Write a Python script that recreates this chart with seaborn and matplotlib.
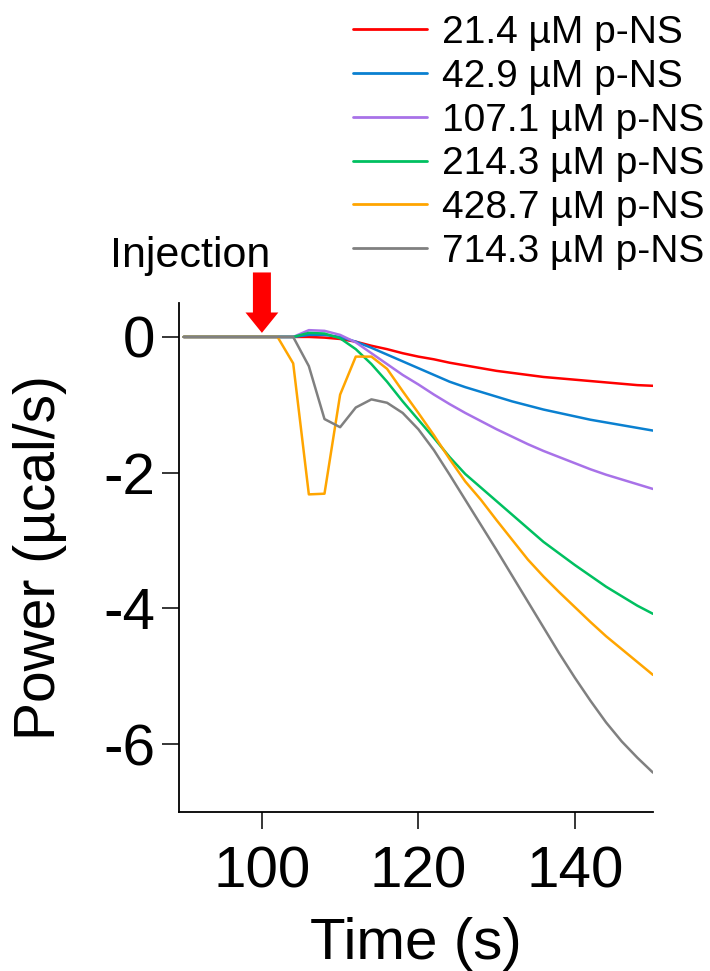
import numpy as np
import pandas as pd
import matplotlib
matplotlib.use("Agg")
import matplotlib.pyplot as plt
import seaborn as sns

# Time axis (s), sampled every 2 s
time_s = list(range(90, 152, 2))

# Heat-flow traces (µcal/s) for each p-NS concentration
conc_labels = ["21.4 µM p-NS", "42.9 µM p-NS", "107.1 µM p-NS",
               "214.3 µM p-NS", "428.7 µM p-NS", "714.3 µM p-NS"]

pre = [0.0] * 8  # 90 ... 104 s

power_21_4 = pre + [0.0, -0.01, -0.03, -0.07, -0.13, -0.18, -0.24, -0.29, -0.33,
                    -0.38, -0.42, -0.46, -0.50, -0.53, -0.56, -0.59, -0.61, -0.63,
                    -0.65, -0.67, -0.69, -0.71, -0.72]
power_42_9 = pre + [0.03, 0.03, 0.0, -0.07, -0.16, -0.26, -0.36, -0.46, -0.56,
                    -0.66, -0.74, -0.81, -0.88, -0.95, -1.01, -1.07, -1.12, -1.17,
                    -1.22, -1.26, -1.30, -1.34, -1.38]
power_107_1 = pre + [0.10, 0.09, 0.03, -0.08, -0.24, -0.40, -0.56, -0.70, -0.85,
                     -0.99, -1.12, -1.24, -1.36, -1.47, -1.58, -1.68, -1.77, -1.86,
                     -1.95, -2.03, -2.10, -2.17, -2.24]
power_214_3 = pre + [0.06, 0.05, -0.02, -0.18, -0.40, -0.66, -0.95, -1.22, -1.49,
                     -1.77, -2.02, -2.22, -2.42, -2.62, -2.82, -3.02, -3.19, -3.36,
                     -3.52, -3.68, -3.82, -3.96, -4.08]
power_428_7 = [0.0] * 7 + [-0.39, -2.32, -2.31, -0.85, -0.29, -0.29, -0.47, -0.80,
                           -1.12, -1.45, -1.80, -2.13, -2.40, -2.70, -2.99, -3.28,
                           -3.53, -3.76, -3.98, -4.20, -4.41, -4.60, -4.79, -4.98]
power_714_3 = pre + [-0.43, -1.21, -1.33, -1.04, -0.92, -0.97, -1.12, -1.36, -1.67,
                     -2.03, -2.40, -2.77, -3.14, -3.52, -3.90, -4.28, -4.66, -5.02,
                     -5.36, -5.68, -5.96, -6.20, -6.42]

series = [power_21_4, power_42_9, power_107_1, power_214_3, power_428_7, power_714_3]
line_colors = ["#FF0000", "#0A80D0", "#A872E8", "#00C060", "#FFA500", "#808080"]

x_ticks = [100, 120, 140]
y_ticks = [0, -2, -4, -6]

injection_time = 100

df = pd.concat(
    [pd.DataFrame({"Time (s)": time_s, "Power": vals, "Sample": lab})
     for lab, vals in zip(conc_labels, series)],
    ignore_index=True,
)

sns.set_theme(style="ticks")
plt.rcParams["font.family"] = ["Liberation Sans", "DejaVu Sans"]
plt.rcParams["text.color"] = "black"
plt.rcParams["axes.labelcolor"] = "black"
plt.rcParams["xtick.color"] = "black"
plt.rcParams["ytick.color"] = "black"

W, H = 710, 971
fig = plt.figure(figsize=(W / 100, H / 100), dpi=100)
ax = fig.add_axes([179 / W, 1 - 812 / H, (653 - 179) / W, (812 - 303) / H])

sns.lineplot(data=df, x="Time (s)", y="Power", hue="Sample",
             hue_order=conc_labels, palette=line_colors, linewidth=1.8,
             ax=ax, legend=True)

handles, labels = ax.get_legend_handles_labels()
ax.get_legend().remove()

ax.set_xlim(89.4, 150)
ax.set_ylim(-7, 0.5)
ax.set_xticks(x_ticks)
ax.set_yticks(y_ticks)
ax.set_xticklabels([str(v) for v in x_ticks])
ax.set_yticklabels([str(v) for v in y_ticks])

for side in ("top", "right"):
    ax.spines[side].set_visible(False)
for side in ("left", "bottom"):
    ax.spines[side].set_linewidth(1.3)
    ax.spines[side].set_color("black")

ax.tick_params(axis="both", direction="out", length=12, width=1.1,
               colors="black", labelsize=42)
ax.tick_params(axis="x", pad=12)
ax.tick_params(axis="y", pad=5)

ax.set_xlabel("Time (s)", fontsize=42, labelpad=13, color="black")
ax.set_ylabel("Power (µcal/s)", fontsize=41, labelpad=26, color="black")

# Injection marker
ax.arrow(injection_time, 0.95, 0, -0.89, width=2.3, head_width=4.2,
         head_length=0.30, length_includes_head=True, color="red",
         linewidth=0, clip_on=False, zorder=5)
fig.text(190 / W, 1 - 267 / H, "Injection", fontsize=31, ha="center",
         va="baseline", color="black")

for h in handles:
    h.set_linewidth(2.0)
leg = fig.legend(handles, labels, loc="upper left",
                 bbox_to_anchor=(353 / W, 1 - 15 / H), frameon=False,
                 fontsize=28, handlelength=1.9, handletextpad=0.4,
                 labelspacing=0.2, borderpad=0, borderaxespad=0)
for t in leg.get_texts():
    t.set_color("black")

fig.savefig("out.png", dpi=100)
